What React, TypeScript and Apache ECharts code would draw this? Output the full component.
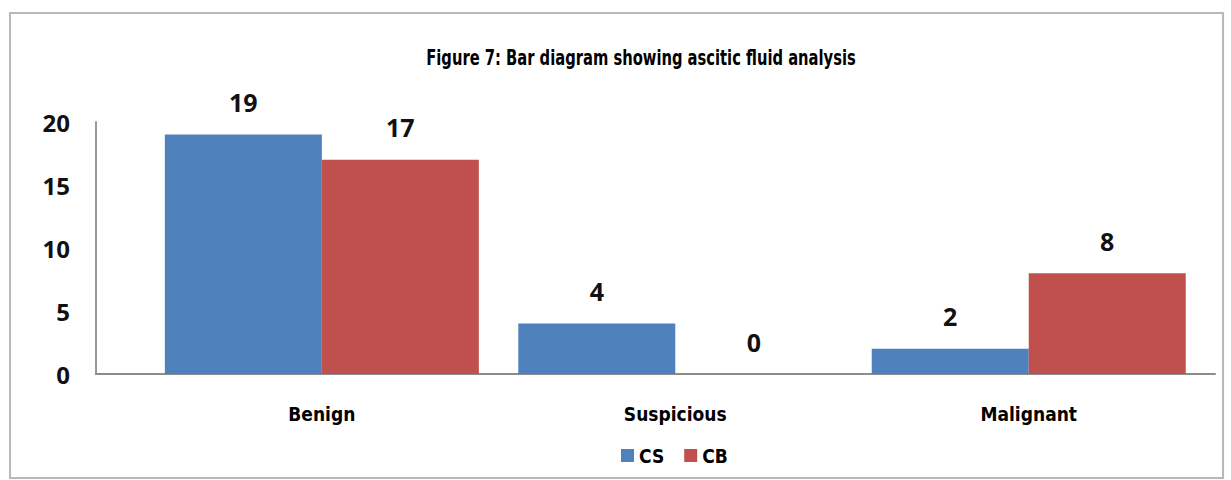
import React, { useEffect, useRef } from "react";
import * as echarts from "echarts";

// Categories along the base axis and the two series plotted against them
const categories: string[] = ["Benign", "Suspicious", "Malignant"];
const seriesNames: string[] = ["CS", "CB"];
const csValues: number[] = [19, 4, 2];
const cbValues: number[] = [17, 0, 8];
const yTicks: number[] = [0, 5, 10, 15, 20];

const BLUE = "#4F81BD";
const RED = "#C0504D";
const NUM_FONT = "'Open Sans', 'DejaVu Sans', sans-serif";
const COND_FONT = "'DejaVu Sans Condensed', 'Liberation Sans Narrow', 'DejaVu Sans', sans-serif";

export default function App() {
  const ref = useRef<HTMLDivElement>(null);

  useEffect(() => {
    if (!ref.current) return;
    const chart = echarts.init(ref.current, undefined, { renderer: "svg" });

    const toPairs = (vals: number[]) => vals.map((v, i) => [i, v]);

    const valueLabel = {
      show: true,
      position: "top" as const,
      distance: 20,
      color: "#111",
      fontFamily: NUM_FONT,
      fontWeight: "bold" as const,
      fontSize: 25,
    };

    chart.setOption({
      animation: false,
      backgroundColor: "#ffffff",
      graphic: [
        {
          type: "rect",
          shape: { x: 10, y: 13, width: 1213, height: 465 },
          style: { fill: "none", stroke: "#b8b8b8", lineWidth: 2 },
          silent: true,
        },
        {
          type: "text",
          x: 641,
          y: 58,
          scaleX: 0.78,
          style: {
            text: "Figure 7: Bar diagram showing ascitic fluid analysis",
            font: `bold 21px ${COND_FONT}`,
            fill: "#000",
            textAlign: "center",
            textVerticalAlign: "middle",
          },
          silent: true,
        },
      ],
      legend: {
        data: seriesNames,
        left: 616,
        top: 441,
        icon: "rect",
        itemWidth: 13,
        itemHeight: 13,
        itemGap: 20,
        textStyle: {
          fontFamily: COND_FONT,
          fontWeight: "bold",
          fontSize: 19,
          color: "#000",
        },
      },
      grid: {
        left: 96,
        right: 16,
        top: 122,
        bottom: 106,
        containLabel: false,
        outerBoundsMode: "none",
      },
      xAxis: {
        type: "value",
        min: -0.639,
        max: 2.527,
        splitLine: { show: false },
        axisLine: { show: true, lineStyle: { color: "#8c8c8c", width: 2 } },
        axisTick: { show: false },
        axisLabel: {
          customValues: [0, 1, 2],
          formatter: (v: number) => categories[Math.round(v)] ?? "",
          margin: 30,
          color: "#000",
          fontFamily: COND_FONT,
          fontWeight: "bold",
          fontSize: 19,
        },
      },
      yAxis: {
        type: "value",
        min: 0,
        max: 20,
        interval: 5,
        splitLine: { show: false },
        axisLine: { show: true, onZero: false, lineStyle: { color: "#9a9a9a", width: 2 } },
        axisTick: { show: false },
        axisLabel: {
          customValues: yTicks,
          margin: 26,
          color: "#111",
          fontFamily: NUM_FONT,
          fontWeight: "bold",
          fontSize: 24,
          padding: [8, 0, 0, 0],
        },
      },
      series: [
        {
          name: seriesNames[0],
          type: "bar",
          data: toPairs(csValues),
          barWidth: 157,
          barGap: "0%",
          itemStyle: { color: BLUE },
          label: valueLabel,
        },
        {
          name: seriesNames[1],
          type: "bar",
          data: toPairs(cbValues),
          barWidth: 157,
          barGap: "0%",
          itemStyle: { color: RED },
          label: valueLabel,
        },
      ],
    });

    return () => chart.dispose();
  }, []);

  return (
    <div
      ref={ref}
      style={{ position: "absolute", left: 0, top: 0, width: 1231, height: 480 }}
    />
  );
}
